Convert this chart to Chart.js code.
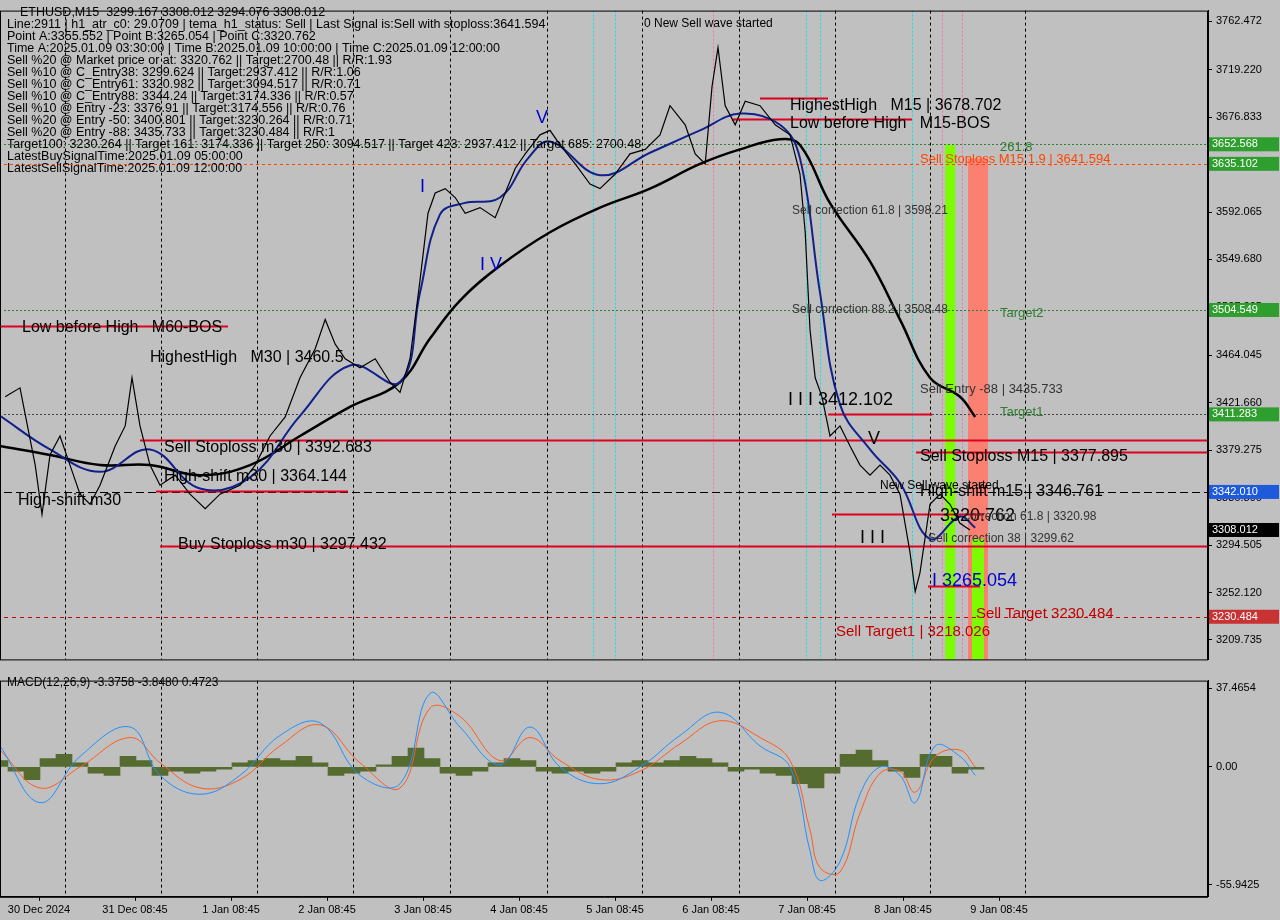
<!DOCTYPE html>
<html><head><meta charset="utf-8">
<script src="https://cdn.jsdelivr.net/npm/chart.js@4.4.1/dist/chart.umd.min.js"></script>
<style>
body{margin:0;background:#c0c0c0;width:1280px;height:920px;overflow:hidden}
#a{position:absolute;left:0;top:0}
#b{position:absolute;left:0;top:670px}
</style></head><body>
<canvas id="a" width="1280" height="670"></canvas>
<canvas id="b" width="1280" height="250"></canvas>
<script>
// giờ tính từ 30 Dec 00:00
const closeHours = [0.3,4,7.8,9.5,11.5,14,16.5,19,21.5,24,27.8,30.3,32,34,36.5,39,42.8,46.5,50.3,54,59,62.8,66.5,70.3,74,77.8,80.3,82.8,85.3,89,92.8,96.5,99,101.5,104,106,107.8,110.3,112.8,115.3,119,122.8,125.3,127.8,130.3,134,136.5,139,142.8,146.5,149,152.8,156.5,160.3,164,166.5,170.3,172.8,175.3,177,178.5,180.3,182.8,185.3,189,192.8,196.5,199,200.3,201.5,202.8,204.5,206.5,209,211.5,214,216.5,219,221.5,224,226.5,227.8,229,231.5,234,236.5,239,241.5];
const closePrices = [3427,3435,3366,3322,3375,3392,3366,3340,3331,3348,3383,3401,3444,3401,3366,3348,3357,3340,3327,3340,3348,3366,3392,3409,3444,3470,3496,3474,3461,3453,3461,3440,3431,3461,3531,3591,3609,3613,3605,3591,3596,3587,3609,3631,3644,3661,3665,3652,3635,3617,3613,3626,3644,3648,3661,3687,3670,3644,3635,3704,3739,3687,3670,3691,3687,3670,3661,3626,3574,3487,3444,3427,3392,3401,3383,3366,3357,3366,3357,3340,3288,3253,3270,3331,3340,3331,3314,3308];
const slowHours = [-1,11.5,24,36.5,49,61.5,74,86.5,99,106.5,114,124,136.5,149,161.5,174,184,194,199,206.5,216.5,224,231.5,239,242.8];
const slowPrices = [3383,3375,3366,3366,3357,3366,3392,3418,3440,3479,3513,3544,3574,3596,3613,3635,3648,3657,3652,3600,3548,3496,3444,3427,3409];
const fastHours = [-1,11.5,24,36.5,49,61.5,74,86.5,99,104,109,115,124,131,136.5,149,161.5,174,184,194,199,204,209,216.5,224,231.5,239,242.8];
const fastPrices = [3410,3380,3360,3380,3345,3355,3410,3455,3440,3520,3590,3600,3605,3640,3655,3625,3645,3665,3680,3670,3640,3520,3420,3380,3350,3300,3320,3310];
const macdHours = [-1,9,19,31.5,39,49,59,69,79,89,99,106.5,114,124,131.5,139,149,159,169,179,189,196.5,201.5,204,209,214,219,224,227.8,232.8,239,242.8];
const macdMain = [10,-17,5,19,-4,-13,-4,15,21,-4,-8,35,19,1,19,0,-8,0,15,26,10,0,-40,-54,-45,-13,0,-4,-17,10,5,-4];
const macdSignal = [8,-10,0,14,2,-10,-6,10,20,2,-10,28,24,3,14,3,-6,-2,11,22,14,3,-30,-48,-50,-22,-3,-2,-12,5,8,0];
const histHours = [-1,3,7,11,15,19,23,27,31,35,39,43,47,51,55,59,63,67,71,75,79,83,87,91,95,99,103,107,111,115,119,123,127,131,135,139,143,147,151,155,159,163,167,171,175,179,183,187,191,195,199,203,207,211,215,219,223,227,231,235,239,243];
const histValues = [3,-2,-6,4,6,2,-3,-4,5,3,-4,-2,-3,-2,-1,2,3,4,3,5,2,-4,-3,-2,1,5,9,4,-3,-4,-2,2,4,3,-2,-3,-2,-3,-2,2,3,2,3,5,4,2,-2,-1,-3,-4,-8,-10,-3,6,8,3,-2,-5,6,5,-3,-1];
const dayTicks = [8.75,32.75,56.75,80.75,104.75,128.75,152.75,176.75,200.75,224.75,248.75];
const dayLabels = ["30 Dec 2024","31 Dec 08:45","1 Jan 08:45","2 Jan 08:45","3 Jan 08:45","4 Jan 08:45","5 Jan 08:45","6 Jan 08:45","7 Jan 08:45","8 Jan 08:45","9 Jan 08:45"];
const priceTicks = [3762.472,3719.220,3676.833,3634.450,3592.065,3549.680,3507.295,3464.045,3421.660,3379.275,3336.890,3294.505,3252.120,3209.735];
const macdTicks = [37.4654,0,-55.9425];
const gridHours = [15.25,39.25,63.25,87.25,111.5,135.75,159.5,183.75,207.75,231.5,255.25];

const F = "Liberation Sans, Arial, sans-serif";
const xs = {type:"linear",min:-1,max:301,display:false,offset:false,grid:{display:false}};
const pts = (h,v)=>h.map((x,i)=>({x,y:v[i]}));

// vẽ khung, lưới chấm
function frame(){
  return {id:"frame",
    beforeDatasetsDraw(c){
      const g=c.ctx,a=c.chartArea,sx=c.scales.x;
      g.save();g.strokeStyle="#000";g.lineWidth=1;g.setLineDash([3,3]);
      gridHours.forEach(h=>{const X=Math.round(sx.getPixelForValue(h))+.5;g.beginPath();g.moveTo(X,a.top);g.lineTo(X,a.bottom);g.stroke();});
      g.setLineDash([]);g.restore();
    },
    afterDraw(c){
      const g=c.ctx,a=c.chartArea;g.save();g.strokeStyle="#000";g.lineWidth=1;
      g.strokeRect(a.left+.5,a.top+.5,a.right-a.left-1,a.bottom-a.top);g.restore();
    }};
}
function yAxis(min,max,ticks,fmt){
  return {position:"right",min,max,
    afterBuildTicks:s=>{s.ticks=ticks.map(v=>({value:v}));},
    afterFit:s=>{s.width=72;},
    grid:{drawOnChartArea:false,color:"#000",tickLength:4},
    border:{color:"#000"},
    ticks:{color:"#000",font:{family:F,size:11},callback:fmt,padding:4}};
}

// các đường ngang + chữ chú thích
const hLines = [
  {p:3652.568,c:"#2e7d32",d:[2,2],from:0},{p:3635.102,c:"#ff4500",d:[3,3],from:0},
  {p:3504.549,c:"#2e7d32",d:[2,2],from:0},{p:3411.283,c:"#444",d:[2,2],from:0},
  {p:3342.010,c:"#000",d:[8,4],from:0},{p:3230.484,c:"#c00000",d:[4,4],from:0},
  {p:3388,c:"#e00020",d:[],from:34,w:2},{p:3294,c:"#e00020",d:[],from:39,w:2},
  {p:3378,c:"#e00020",d:[],from:228,w:2},{p:3343,c:"#e00020",d:[],from:38,to:86,w:2},
  {p:3490,c:"#e00020",d:[],from:-1,to:56,w:2},{p:3675,c:"#e00020",d:[],from:182,to:227,w:2},
  {p:3694,c:"#e00020",d:[],from:189,to:206,w:2},{p:3412,c:"#e00020",d:[],from:206,to:232,w:2},
  {p:3322,c:"#e00020",d:[],from:207,to:245,w:2},{p:3258,c:"#e00020",d:[],from:231,to:244,w:2}
];
const notes = [
  {h:160,p:3757,t:"0 New Sell wave started",s:12,c:"#000"},
  {h:196.5,p:3683,t:"HighestHigh   M15 | 3678.702",s:16,c:"#000"},
  {h:196.5,p:3667,t:"Low before High   M15-BOS",s:16,c:"#000"},
  {h:4.5,p:3485,t:"Low before High   M60-BOS",s:16,c:"#000"},
  {h:36.5,p:3458,t:"HighestHigh   M30 | 3460.5",s:16,c:"#000"},
  {h:40,p:3378,t:"Sell Stoploss m30 | 3392.683",s:16,c:"#000"},
  {h:40,p:3352,t:"High-shift m30 | 3364.144",s:16,c:"#000"},
  {h:3.5,p:3330,t:"High-shift m30",s:16,c:"#000"},
  {h:43.5,p:3291,t:"Buy Stoploss m30 | 3297.432",s:16,c:"#000"},
  {h:196,p:3420,t:"I I I 3412.102",s:18,c:"#000"},
  {h:229,p:3430,t:"Sell Entry -88 | 3435.733",s:13,c:"#333"},
  {h:229,p:3370,t:"Sell Stoploss M15 | 3377.895",s:16,c:"#000"},
  {h:229,p:3338,t:"High-shift m15 | 3346.761",s:16,c:"#000"},
  {h:234,p:3316,t:"3320.762",s:18,c:"#000"},
  {h:240,p:3317,t:"correction 61.8 | 3320.98",s:12,c:"#333"},
  {h:231,p:3297,t:"Sell correction 38 | 3299.62",s:12,c:"#333"},
  {h:232,p:3258,t:"I 3265.054",s:18,c:"#0000cc"},
  {h:208,p:3213,t:"Sell Target1 | 3218.026",s:15,c:"#c00000"},
  {h:243,p:3229,t:"Sell Target 3230.484",s:15,c:"#c00000"},
  {h:197,p:3590,t:"Sell correction 61.8 | 3598.21",s:12,c:"#333"},
  {h:197,p:3502,t:"Sell correction 88.2 | 3508.48",s:12,c:"#333"},
  {h:229,p:3636,t:"Sell Stoploss M15 1.9 | 3641.594",s:13,c:"#ff4500"},
  {h:249,p:3647,t:"261.8",s:13,c:"#2e7d32"},
  {h:249,p:3498,t:"Target2",s:13,c:"#2e7d32"},
  {h:249,p:3410,t:"Target1",s:13,c:"#2e7d32"},
  {h:214,p:3296,t:"I I I",s:18,c:"#000"},
  {h:119,p:3540,t:"I V",s:18,c:"#0000cc"},
  {h:104,p:3610,t:"I",s:18,c:"#0000cc"},
  {h:133,p:3672,t:"V",s:18,c:"#0000cc"},
  {h:216,p:3385,t:"V",s:18,c:"#000"},
  {h:219,p:3345,t:"New Sell wave started",s:12,c:"#000"}
];
const head = ["ETHUSD,M15  3299.167 3308.012 3294.076 3308.012",
"Line:2911 | h1_atr_c0: 29.0709 | tema_h1_status: Sell | Last Signal is:Sell with stoploss:3641.594",
"Point A:3355.552 | Point B:3265.054 | Point C:3320.762",
"Time A:2025.01.09 03:30:00 | Time B:2025.01.09 10:00:00 | Time C:2025.01.09 12:00:00",
"Sell %20 @ Market price or at: 3320.762 || Target:2700.48 || R/R:1.93",
"Sell %10 @ C_Entry38: 3299.624 || Target:2937.412 || R/R:1.06",
"Sell %10 @ C_Entry61: 3320.982 || Target:3094.517 || R/R:0.71",
"Sell %10 @ C_Entry88: 3344.24 || Target:3174.336 || R/R:0.57",
"Sell %10 @ Entry -23: 3376.91 || Target:3174.556 || R/R:0.76",
"Sell %20 @ Entry -50: 3400.801 || Target:3230.264 || R/R:0.71",
"Sell %20 @ Entry -88: 3435.733 || Target:3230.484 || R/R:1",
"Target100: 3230.264 || Target 161: 3174.336 || Target 250: 3094.517 || Target 423: 2937.412 || Target 685: 2700.48",
"LatestBuySignalTime:2025.01.09 05:00:00",
"LatestSellSignalTime:2025.01.09 12:00:00"];
const tags = [
  {p:3652.568,bg:"#2e9e2e",fg:"#fff"},{p:3635.102,bg:"#2e9e2e",fg:"#fff"},
  {p:3504.549,bg:"#2e9e2e",fg:"#fff"},{p:3411.283,bg:"#2e9e2e",fg:"#fff"},
  {p:3342.010,bg:"#1e5adc",fg:"#fff"},{p:3308.012,bg:"#000",fg:"#fff"},
  {p:3230.484,bg:"#c83232",fg:"#fff"}];
const vLines = [{h:147.3,c:"#00e5ee"},{h:152.8,c:"#00e5ee"},{h:177.3,c:"#ff69b4"},{h:200.5,c:"#00e5ee"},{h:204,c:"#00e5ee"},{h:227,c:"#00e5ee"},{h:234.5,c:"#ff69b4"},{h:239.5,c:"#ff69b4"}];
const zones = [{h1:235.3,h2:237.8,p1:3652,p2:3192,c:"#7cfc00"},{h1:241,h2:246,p1:3640,p2:3192,c:"#fa8072"},{h1:242,h2:245,p1:3300,p2:3192,c:"#7cfc00"}];

const deco = {id:"deco",
  beforeDatasetsDraw(c){
    const g=c.ctx,a=c.chartArea,sx=c.scales.x,sy=c.scales.y;g.save();
    zones.forEach(z=>{g.fillStyle=z.c;const X1=sx.getPixelForValue(z.h1),X2=sx.getPixelForValue(z.h2),Y1=sy.getPixelForValue(z.p1),Y2=sy.getPixelForValue(z.p2);g.fillRect(X1,Y1,X2-X1,Y2-Y1);});
    g.lineWidth=1;g.setLineDash([2,2]);
    vLines.forEach(v=>{g.strokeStyle=v.c;const X=Math.round(sx.getPixelForValue(v.h))+.5;g.beginPath();g.moveTo(X,a.top);g.lineTo(X,a.bottom);g.stroke();});
    hLines.forEach(l=>{g.strokeStyle=l.c;g.lineWidth=l.w||1;g.setLineDash(l.d);const Y=Math.round(sy.getPixelForValue(l.p))+.5;
      g.beginPath();g.moveTo(sx.getPixelForValue(l.from),Y);g.lineTo(l.to!==undefined?sx.getPixelForValue(l.to):a.right,Y);g.stroke();});
    g.restore();
  },
  afterDatasetsDraw(c){
    const g=c.ctx,a=c.chartArea,sx=c.scales.x,sy=c.scales.y;g.save();g.textBaseline="alphabetic";
    notes.forEach(n=>{g.font=n.s+"px "+F;g.fillStyle=n.c;g.fillText(n.t,sx.getPixelForValue(n.h),sy.getPixelForValue(n.p));});
    g.font="12.5px "+F;g.fillStyle="#000";g.textBaseline="top";
    head.forEach((t,i)=>g.fillText(t,i==0?20:7,6+i*12));
    g.font="11px "+F;g.textBaseline="middle";
    tags.forEach(t=>{const Y=sy.getPixelForValue(t.p);g.fillStyle=t.bg;g.fillRect(a.right+1,Y-7,70,14);g.fillStyle=t.fg;g.fillText(t.p.toFixed(3),a.right+4,Y);});
    g.restore();
  }};

new Chart(document.getElementById("a"),{
  type:"line",
  data:{datasets:[
    {data:pts(closeHours,closePrices),borderColor:"#000",borderWidth:1.2,pointRadius:0,tension:0},
    {data:pts(fastHours,fastPrices),borderColor:"#10208c",borderWidth:2,pointRadius:0,tension:0.4},
    {data:pts(slowHours,slowPrices),borderColor:"#000",borderWidth:2.5,pointRadius:0,tension:0.4}
  ]},
  options:{responsive:false,animation:false,layout:{padding:{top:2,left:0,right:0,bottom:0}},
    plugins:{legend:{display:false},tooltip:{enabled:false}},
    scales:{x:xs,y:yAxis(3192.4,3772,priceTicks,v=>v.toFixed(3))}},
  plugins:[frame(),deco]
});

const macdText = {id:"mt",afterDraw(c){const g=c.ctx;g.save();g.font="12px "+F;g.fillStyle="#000";g.textBaseline="top";g.fillText("MACD(12,26,9) -3.3758 -3.8480 0.4723",7,7);g.restore();}};
new Chart(document.getElementById("b"),{
  data:{datasets:[
    {type:"bar",data:pts(histHours,histValues),backgroundColor:"#556b2f",barThickness:16,categoryPercentage:1,barPercentage:1,order:3},
    {type:"line",data:pts(macdHours,macdSignal),borderColor:"#ff5a1e",borderWidth:1,pointRadius:0,tension:0.4,order:2},
    {type:"line",data:pts(macdHours,macdMain),borderColor:"#1e90ff",borderWidth:1,pointRadius:0,tension:0.4,order:1}
  ]},
  options:{responsive:false,animation:false,layout:{padding:{top:2,bottom:0,left:0}},
    plugins:{legend:{display:false},tooltip:{enabled:false}},
    scales:{
      x:{type:"linear",min:-1,max:301,offset:false,position:"bottom",
        afterBuildTicks:s=>{s.ticks=dayTicks.map(v=>({value:v}));},
        grid:{drawOnChartArea:false,offset:false,color:"#000",tickLength:4},border:{color:"#000"},
        ticks:{color:"#000",font:{family:F,size:11},maxRotation:0,autoSkip:false,callback:(v,i)=>dayLabels[i]}},
      y:yAxis(-61.8,41.1,macdTicks,v=>v==0?"0.00":v.toFixed(4))}},
  plugins:[frame(),macdText]
});
</script></body></html>
